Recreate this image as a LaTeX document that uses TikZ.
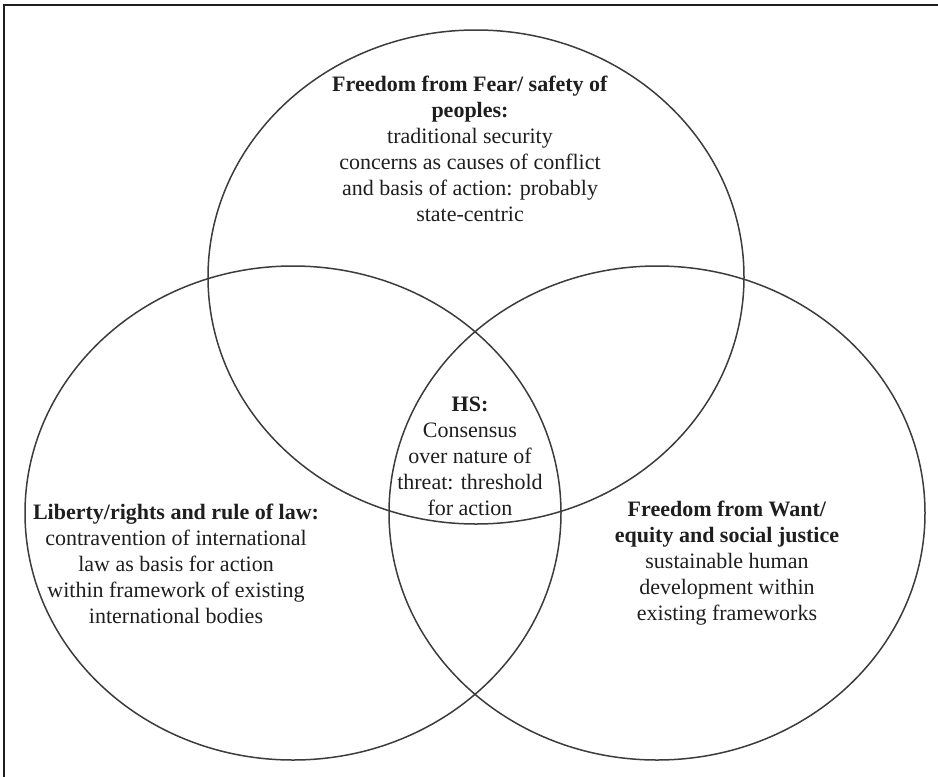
\documentclass[tikz,border=0pt]{standalone}
\usepackage{fontspec}
\setmainfont{Liberation Serif}
\usetikzlibrary{shapes.geometric}
\definecolor{ink}{HTML}{1E1E1E}
\definecolor{ring}{HTML}{3C3C3C}
\tikzset{
  venn/.style={draw=ring, line width=1.5pt, ellipse, minimum width=536pt, minimum height=494pt, inner sep=0pt},
  label/.style={align=center, text=ink, inner sep=0pt, font=\fontsize{22}{26}\selectfont},
}
\begin{document}
\begin{tikzpicture}[x=1pt,y=-1pt]
\useasboundingbox (0,0) rectangle (938,777);
\clip (0,0) rectangle (938,777);
\draw[ink, line width=2pt] (4,5) rectangle (960,800);
\node[venn] (fear) at (476,277) {};
\node[venn] (liberty) at (293,513) {};
\node[venn] (want) at (657,513) {};
\node[label] (tfear) at (470,149) {\textbf{Freedom from Fear/ safety of}\\\textbf{peoples:}\\traditional security\\concerns as causes of conflict\\and basis of action: probably\\state-centric};
\node[label] (ths) at (470,456) {\textbf{HS:}\\Consensus\\over nature of\\threat: threshold\\for action};
\node[label] (tlib) at (176,564) {\textbf{Liberty/rights and rule of law:}\\contravention of international\\law as basis for action\\within framework of existing\\international bodies};
\node[label] (twant) at (727,563) {\textbf{Freedom from Want/}\\\textbf{equity and social justice}\\sustainable human\\development within\\existing frameworks};
\end{tikzpicture}
\end{document}
